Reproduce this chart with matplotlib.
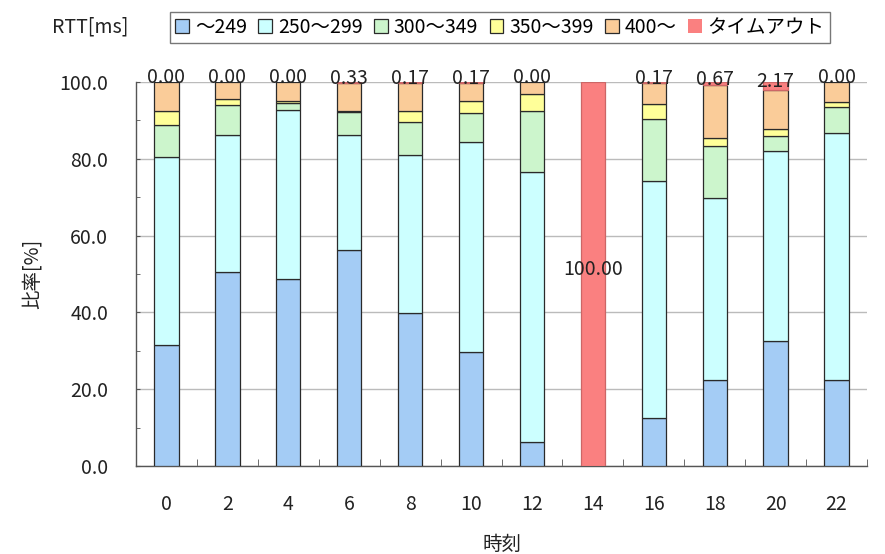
import matplotlib.pyplot as plt
import numpy as np

plt.rcParams['font.family'] = ['Noto Sans CJK JP', 'DejaVu Sans']

hours = ['0', '2', '4', '6', '8', '10', '12', '14', '16', '18', '20', '22']
rtt_249 = [31.5, 50.5, 48.6, 56.2, 39.9, 29.6, 6.2, 0.0, 12.6, 22.5, 32.6, 22.5]
rtt_250_299 = [49.0, 35.7, 44.1, 30.0, 41.1, 54.7, 70.4, 0.0, 61.6, 47.4, 49.5, 64.3]
rtt_300_349 = [8.3, 7.8, 1.8, 6.0, 8.7, 7.6, 15.9, 0.0, 16.1, 13.5, 3.9, 6.8]
rtt_350_399 = [3.7, 1.7, 0.5, 0.3, 2.8, 3.2, 4.5, 0.0, 4.1, 1.9, 1.7, 1.1]
rtt_400 = [7.5, 4.3, 5.0, 7.17, 7.33, 4.73, 3.0, 0.0, 5.43, 14.03, 10.13, 5.3]
timeout = [0.00, 0.00, 0.00, 0.33, 0.17, 0.17, 0.00, 100.00, 0.17, 0.67, 2.17, 0.00]

labels = ['～249', '250～299', '300～349', '350～399', '400～', 'タイムアウト']
colors = ['#A4CCF5', '#CCFFFF', '#CCF5CC', '#FFFF99', '#FACC99', '#FA8080']
series = [rtt_249, rtt_250_299, rtt_300_349, rtt_350_399, rtt_400, timeout]

fig = plt.figure(figsize=(8.85, 5.54), dpi=100)
ax = fig.add_axes([136 / 885, 1 - 466 / 554, 731 / 885, 384 / 554])

x = np.arange(len(hours))
bottom = np.zeros(len(hours))
handles = []
for vals, col, lab in zip(series, colors, labels):
    vals = np.array(vals)
    edge = '#cc6666' if lab == 'タイムアウト' else '#2a2a2a'
    lw = np.where(vals > 0, 0.9, 0)
    b = ax.bar(x, vals, 0.4, bottom=bottom, color=col, edgecolor=edge,
               linewidth=lw, zorder=3, label=lab)
    handles.append(b)
    bottom += vals

# timeout percentage written on each bar
tb = np.array(timeout)
for xi, v, top in zip(x, tb, bottom):
    ax.annotate(f'{v:.2f}', (xi, top - v / 2), xytext=(0, 3),
                textcoords='offset points', ha='center', va='center',
                fontsize=14, color='#222222', zorder=5)

ax.set_xlim(-0.5, len(hours) - 0.5)
ax.set_ylim(0, 100)
ax.set_yticks(np.arange(0, 101, 20))
ax.set_yticks(np.arange(0, 101, 10), minor=True)
ax.set_yticklabels([f'{v:.1f}' for v in np.arange(0, 101, 20)])
ax.set_xticks(x)
ax.set_xticklabels(hours)
ax.set_xticks(np.arange(-0.5, len(hours)), minor=True)

ax.tick_params(axis='x', which='major', length=0, pad=20, labelsize=14, labelcolor='#222222')
ax.tick_params(axis='x', which='minor', direction='in', length=5, color='#555555')
ax.tick_params(axis='y', which='both', direction='in', length=3, color='#555555',
               pad=20, labelsize=14, labelcolor='#222222')

ax.grid(axis='y', which='major', color='#BBBBBB', linewidth=1.0, zorder=0)
ax.set_axisbelow(True)
for s in ['top', 'right']:
    ax.spines[s].set_visible(False)
for s in ['left', 'bottom']:
    ax.spines[s].set_color('#555555')
    ax.spines[s].set_linewidth(1.0)

ax.set_xlabel('時刻', fontsize=14, color='#222222', labelpad=14)
ax.set_ylabel('比率[%]', fontsize=14, color='#222222', labelpad=12)

fig.text(90 / 885, 1 - 27 / 554, 'RTT[ms]', ha='center', va='center',
         fontsize=14, color='#222222')
leg = fig.legend(handles=handles, loc='center', ncol=6,
                 bbox_to_anchor=(500 / 885, 1 - 27.5 / 554),
                 fontsize=14, frameon=True, fancybox=False,
                 handlelength=0.7, handleheight=0.7, handletextpad=0.3,
                 columnspacing=0.6, borderpad=0.25, borderaxespad=0)
leg.get_frame().set_edgecolor('#555555')
leg.get_frame().set_linewidth(1.0)

fig.savefig('out.png', dpi=100)
